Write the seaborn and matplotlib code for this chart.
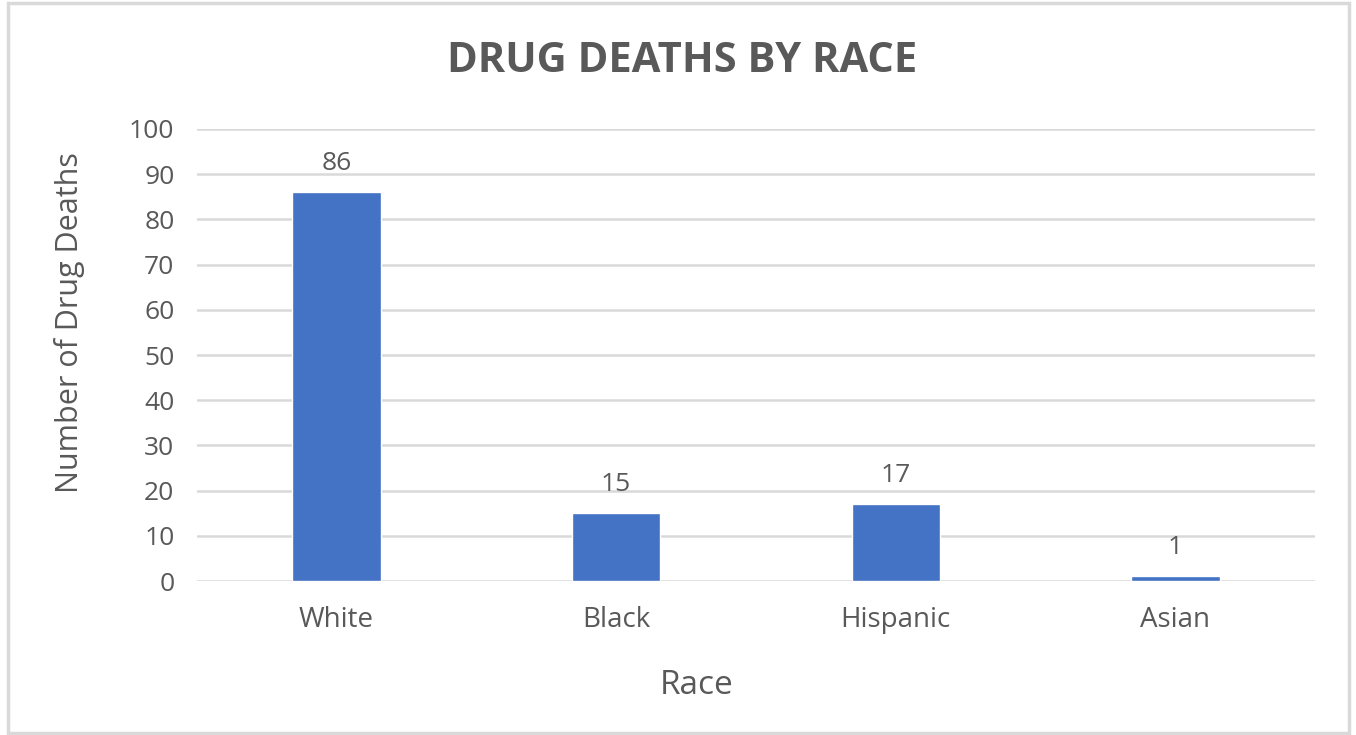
import numpy as np
import pandas as pd
import matplotlib
matplotlib.use('Agg')
import matplotlib.pyplot as plt
import seaborn as sns
from matplotlib.patches import Rectangle

# Chart data
races = ['White', 'Black', 'Hispanic', 'Asian']
deaths = [86, 15, 17, 1]
y_ticks = [0, 10, 20, 30, 40, 50, 60, 70, 80, 90, 100]

df = pd.DataFrame({'Race': races, 'Deaths': deaths})

sns.set_style('white')
plt.rcParams['font.family'] = ['Open Sans', 'DejaVu Sans']
text_color = '#595959'

fig = plt.figure(figsize=(13.56, 7.35), dpi=100)
ax = fig.add_axes([0.145, 0.2095, 0.825, 0.615])

sns.barplot(data=df, x='Race', y='Deaths', color='#4472C4', width=0.315,
            saturation=1, ax=ax, zorder=3)

ax.set_ylim(0, 100)
ax.set_xlim(-0.5, 3.5)
ax.set_yticks(y_ticks)
ax.yaxis.grid(True, color='#d9d9d9', linewidth=1.8, zorder=0)
ax.set_axisbelow(True)
for s in ax.spines.values():
    s.set_visible(False)
ax.tick_params(axis='both', length=0, colors=text_color)
ax.tick_params(axis='y', labelsize=19, pad=16)
ax.tick_params(axis='x', labelsize=20, pad=18)

# value labels
for i, v in enumerate(deaths):
    ax.annotate(str(v), (i, v), xytext=(0, 12), textcoords='offset points',
                ha='center', va='bottom', fontsize=19, color=text_color)

ax.set_xlabel('Race', fontsize=24, color=text_color)
ax.set_ylabel('Number of Drug Deaths', fontsize=22, color=text_color)
# Excel centres the axis titles on the chart area, not the plot area
ax.xaxis.set_label_coords((697 - 197) / 1118, -(685 - 581) / 452)
ax.yaxis.set_label_coords(-(197 - 70) / 1118, (581 - 323) / 452)
ax.xaxis.label.set_va('center')
ax.yaxis.label.set_va('center')

fig.text(0.503, 1 - 61 / 735, 'DRUG DEATHS BY RACE', ha='center', va='center',
         fontsize=30, fontweight='bold', color=text_color)

# light frame around the chart
fig.patches.append(Rectangle((0.006, 0.003), 0.989, 0.993, transform=fig.transFigure,
                             fill=False, edgecolor='#d9d9d9', linewidth=2.5))

fig.savefig('out.png', dpi=100)
